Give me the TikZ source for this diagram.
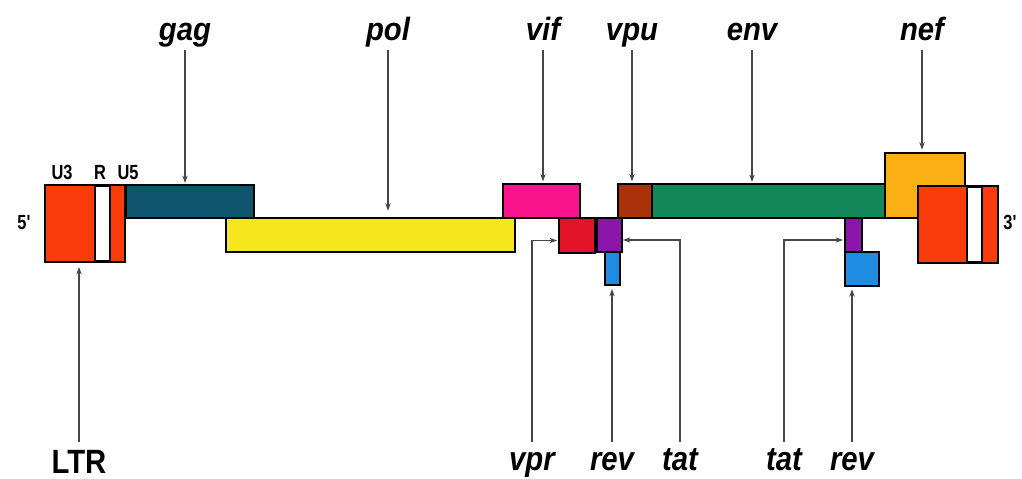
\documentclass[tikz,border=0pt]{standalone}
\usepackage{fontspec}
\setmainfont{Liberation Sans}
\usetikzlibrary{arrows.meta,calc}
\definecolor{ltrred}{RGB}{250,60,10}
\definecolor{gagc}{RGB}{15,85,110}
\definecolor{polc}{RGB}{245,230,30}
\definecolor{vifc}{RGB}{250,20,140}
\definecolor{vprc}{RGB}{225,20,40}
\definecolor{tatc}{RGB}{140,20,170}
\definecolor{revc}{RGB}{30,140,225}
\definecolor{vpuc}{RGB}{170,50,10}
\definecolor{envc}{RGB}{20,135,90}
\definecolor{nefc}{RGB}{250,175,20}
\definecolor{arrc}{RGB}{70,70,70}
\newcommand\genebox[6]{\node[gene,fill=#2,minimum width={(#5-#3)*0.03cm},minimum height={(#6-#4)*0.03cm}] (#1) at ({(#3+#5)/2},{(#4+#6)/2}) {};}
\newcommand\tallt[2]{\scalebox{1}[#1]{#2}}
\begin{document}
\begin{tikzpicture}[x=0.03cm,y=-0.03cm,
  gene/.style={draw=black,line width=1.8pt,rectangle,inner sep=0pt,outer sep=0pt},
  glab/.style={font=\fontsize{25}{25}\selectfont\bfseries\itshape,inner sep=0pt,anchor=base},
  slab/.style={font=\fontsize{14}{14}\selectfont\bfseries,inner sep=0pt,anchor=base},
  arr/.style={draw=arrc,line width=1.1pt,-{Stealth[length=0.22cm,width=0.16cm]}}]
\useasboundingbox (0,0) rectangle (1022,479);
% boxes
\genebox{ltr5}{ltrred}{45}{185}{125}{262}
\genebox{ltr5w}{white}{95}{186}{110}{261}
\genebox{gag}{gagc}{126}{185}{254}{218}
\genebox{pol}{polc}{226}{218}{515}{252}
\genebox{vif}{vifc}{503}{184}{580}{218}
\genebox{vpr}{vprc}{559}{218}{595}{253}
\genebox{rev1}{revc}{605}{252}{620}{285}
\genebox{tat1}{tatc}{597}{218}{622}{252}
\genebox{vpu}{vpuc}{618}{184}{652}{218}
\genebox{env}{envc}{652}{184}{886}{218}
\genebox{nef}{nefc}{885}{153}{965}{218}
\genebox{ltr3}{ltrred}{918}{186}{998}{263}
\genebox{ltr3w}{white}{967}{187}{982}{262}
\genebox{rev2}{revc}{845}{252}{879}{286}
\genebox{tat2}{tatc}{845}{218}{862}{252}
% small labels
\node[slab] (u3) at (62,179) {\tallt{1.25}{U3}};
\node[slab] (r) at (100,179) {\tallt{1.25}{R}};
\node[slab] (u5) at (128,179) {\tallt{1.25}{U5}};
\node[slab] (p5) at (24,229) {\tallt{1.25}{5\textquotesingle}};
\node[slab] (p3) at (1010,229) {\tallt{1.25}{3\textquotesingle}};
% top labels
\node[glab] (gagl) at (185,41) {\tallt{1.1}{gag}};
\node[glab] (poll) at (388,41) {\tallt{1.1}{pol}};
\node[glab] (vifl) at (543,41) {\tallt{1.1}{vif}};
\node[glab] (vpul) at (632,41) {\tallt{1.1}{vpu}};
\node[glab] (envl) at (752,41) {\tallt{1.1}{env}};
\node[glab] (nefl) at (922,41) {\tallt{1.1}{nef}};
% bottom labels
\node[glab,font=\fontsize{25}{25}\selectfont\bfseries] (ltrl) at (79,473) {\tallt{1.15}{LTR}};
\node[glab] (vprl) at (532,470) {\tallt{1.15}{vpr}};
\node[glab] (rev1l) at (612,470) {\tallt{1.15}{rev}};
\node[glab] (tat1l) at (680,470) {\tallt{1.15}{tat}};
\node[glab] (tat2l) at (784,470) {\tallt{1.15}{tat}};
\node[glab] (rev2l) at (852,470) {\tallt{1.15}{rev}};
% arrow start points
\foreach \n in {gag,pol,vif,vpu,env,nef}{\coordinate (\n s) at ($(\n l.base)+(0,9)$);}
\coordinate (ltrs) at ($(ltrl.base)+(0,-31)$);
\foreach \n in {vpr,rev1,tat1,tat2,rev2}{\coordinate (\n s) at ($(\n l.base)+(0,-28)$);}
% arrows
\draw[arr,shorten >=0.06cm] (gags) -- (gags |- gag.north);
\draw[arr,shorten >=0.22cm] (pols) -- (pols |- pol.north);
\draw[arr,shorten >=0.08cm] (vifs) -- (vifs |- vif.north);
\draw[arr,shorten >=0.08cm] (vpus) -- (vpus |- vpu.north);
\draw[arr,shorten >=0.06cm] (envs) -- (envs |- env.north);
\draw[arr,shorten >=0.1cm] (nefs) -- (nefs |- nef.north);
\draw[arr,shorten >=0.15cm] (ltrs) -- (ltrs |- ltr5.south);
\draw[arr,shorten >=0.06cm] (vprs) |- ($(vpr.west)+(0,5)$);
\draw[arr,shorten >=0.12cm] (rev1s) -- (rev1s |- rev1.south);
\draw[arr,shorten >=0.03cm] (tat1s) |- ($(tat1.east)+(0,5)$);
\draw[arr,shorten >=0.06cm] (tat2s) |- ($(tat2.west)+(0,5)$);
\draw[arr,shorten >=0.1cm] (rev2s) -- (rev2s |- rev2.south);
\end{tikzpicture}
\end{document}
